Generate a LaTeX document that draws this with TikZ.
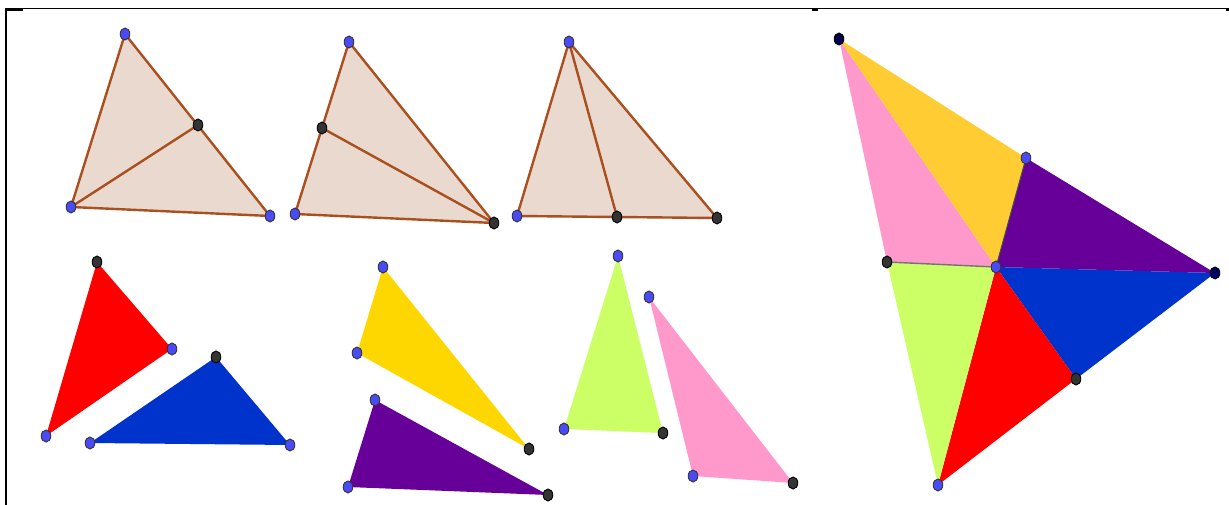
\documentclass[tikz,border=0pt]{standalone}
\begin{document}
\begin{tikzpicture}[x=1pt,y=-1pt]
\definecolor{beige}{HTML}{EAD9CF}
\definecolor{brownline}{HTML}{A9501E}
\definecolor{bdot}{HTML}{4B4BF5}
\definecolor{kdot}{HTML}{333333}
\definecolor{cred}{HTML}{FF0000}
\definecolor{cblue}{HTML}{0033CC}
\definecolor{cgold}{HTML}{FFD700}
\definecolor{cpurple}{HTML}{660099}
\definecolor{cgreen}{HTML}{CCFF66}
\definecolor{cpink}{HTML}{FF99CC}
\definecolor{corange}{HTML}{FFCC33}
\tikzset{
  bpt/.style={draw=kdot,line width=0.9pt,fill=bdot},
  kpt/.style={draw=black,line width=0.9pt,fill=kdot},
  tri/.style={fill=beige,draw=brownline,line width=2.4pt,line join=round},
  seg/.style={draw=brownline,line width=2.4pt},
  frameline/.style={line width=1.6pt},
}
\useasboundingbox (0,0) rectangle (1229,505);
\fill[white] (0,0) rectangle (1229,505);
% frame
\draw[frameline] (5,8.5) -- (1229,8.5);
\draw[frameline] (6,8) -- (6,505);
\draw[line width=2.5pt] (5,9.5) -- (23,9.5);
\draw[line width=2.5pt] (812,9.5) -- (818,9.5);
\draw[line width=2.5pt] (1226,9.5) -- (1229,9.5);

% coordinates top row
\coordinate (a1) at (125,34); \coordinate (b1) at (71,207); \coordinate (c1) at (270,216); \coordinate (d1) at (198,125);
\coordinate (a2) at (349,42); \coordinate (b2) at (295,214); \coordinate (c2) at (494,223); \coordinate (d2) at (322,128);
\coordinate (a3) at (569,42); \coordinate (b3) at (517,216); \coordinate (c3) at (717,218); \coordinate (d3) at (617,217);
\draw[tri] (a1) -- (b1) -- (c1) -- cycle; \draw[seg] (b1) -- (d1);
\draw[tri] (a2) -- (b2) -- (c2) -- cycle; \draw[seg] (d2) -- (c2);
\draw[tri] (a3) -- (b3) -- (c3) -- cycle; \draw[seg] (a3) -- (d3);

% bottom row pieces
\coordinate (r1) at (97,262); \coordinate (r2) at (172,349); \coordinate (r3) at (46,436);
\coordinate (u1) at (216,357); \coordinate (u2) at (290,445); \coordinate (u3) at (90,443);
\coordinate (y1) at (383,267); \coordinate (y2) at (357,353); \coordinate (y3) at (529,449);
\coordinate (p1) at (375,400); \coordinate (p2) at (348,487); \coordinate (p3) at (548,495);
\coordinate (g1) at (618,256); \coordinate (g2) at (564,429); \coordinate (g3) at (663,433);
\coordinate (k1) at (649,297); \coordinate (k2) at (693,476); \coordinate (k3) at (793,483);
\fill[cred] (r1) -- (r2) -- (r3) -- cycle;
\fill[cblue] (u1) -- (u2) -- (u3) -- cycle;
\fill[cgold] (y1) -- (y2) -- (y3) -- cycle;
\fill[cpurple] (p1) -- (p2) -- (p3) -- cycle;
\fill[cgreen] (g1) -- (g2) -- (g3) -- cycle;
\fill[cpink] (k1) -- (k2) -- (k3) -- cycle;

% big figure
\coordinate (P1) at (839,39); \coordinate (P2) at (1026,158); \coordinate (P3) at (996,267);
\coordinate (P4) at (887,262); \coordinate (P5) at (1215,273); \coordinate (P6) at (1076,379);
\coordinate (P7) at (938,485);
\fill[cpink] (P1) -- (P4) -- (P3) -- cycle;
\fill[corange] (P1) -- (P3) -- (P2) -- cycle;
\fill[cpurple] (P2) -- (P3) -- (P5) -- cycle;
\fill[cblue] (P3) -- (P5) -- (P6) -- cycle;
\fill[cred] (P3) -- (P6) -- (P7) -- cycle;
\fill[cgreen] (P4) -- (P3) -- (P7) -- cycle;
\draw[line width=1.4pt,draw=black!55] (P4) -- (P3);
\draw[line width=1pt,draw=black!70] (P3) -- (P2);

% points
\foreach \p in {a1,b1,c1,a2,b2,a3,b3,r2,r3,u2,u3,y1,y2,p1,p2,g1,g2,k1,k2,P2,P3,P7}
  \filldraw[bpt] (\p) ellipse (4.8 and 6);
\foreach \p in {d1,c2,d2,c3,d3,r1,u1,y3,p3,g3,k3,P4,P6}
  \filldraw[kpt] (\p) ellipse (4.8 and 6);
\filldraw[draw=black,line width=0.9pt,fill=black!70!blue] (P1) ellipse (4.8 and 6);
\filldraw[draw=black,line width=0.9pt,fill=black!60!blue] (P5) ellipse (4.8 and 6);
\end{tikzpicture}
\end{document}
